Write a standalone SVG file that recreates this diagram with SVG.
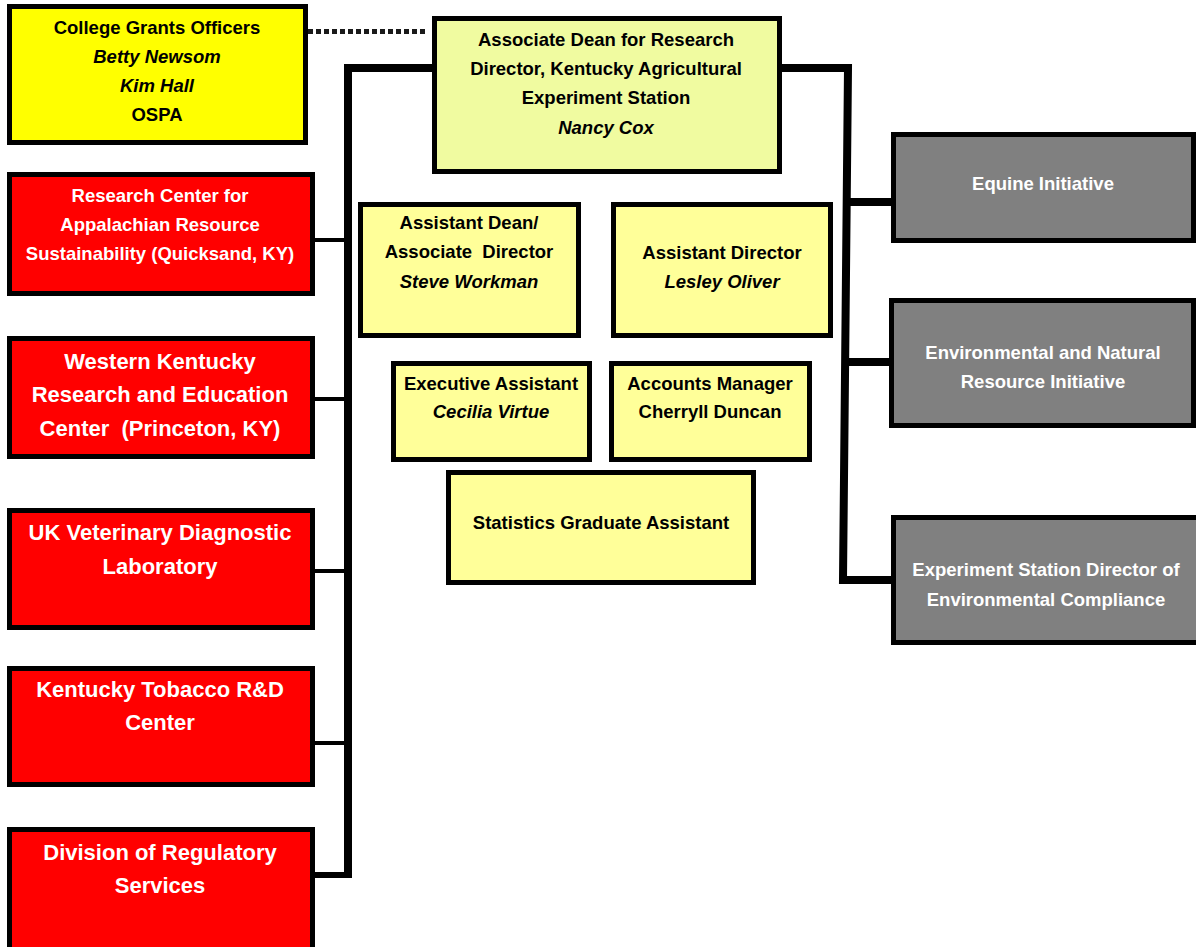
<svg xmlns="http://www.w3.org/2000/svg" width="1196" height="947" viewBox="0 0 1196 947">
<style>
.box{stroke:#000;stroke-width:5}
.gr{fill:#FFFF00}
.ad{fill:#F0FBA0}
.ly{fill:#FFFF99}
.rd{fill:#FF0000}
.gy{fill:#808080}
text{font-family:"Liberation Sans",Arial,sans-serif;font-weight:bold;text-anchor:middle;white-space:pre}
.t{font-size:18.5px;fill:#000}
.w{font-size:18.5px;fill:#fff}
.wl{font-size:22px;fill:#fff}
.i{font-style:italic}
.main{fill:none;stroke:#000;stroke-width:8}
.br{fill:none;stroke:#000;stroke-width:4}
</style>
<rect width="1196" height="947" fill="#fff"/>
<g id="connectors">
<line x1="308" y1="31.5" x2="428" y2="31.5" stroke="#1a1a1a" stroke-width="5" stroke-dasharray="5 3"/>
<path class="main" d="M432 68 H348 V878"/>
<path class="br" d="M315 240 H348 M315 399 H348 M315 571 H348 M315 743 H348"/>
<path class="main" d="M315 875 H348" style="stroke-width:6"/>
<path class="main" d="M782 68 H848 L843 580 H891"/>
<path class="main" d="M847 202 H893 M845 362 H891"/>
</g>
<g id="grants">
<rect class="box gr" x="9.5" y="6.5" width="296" height="136"/>
<text class="t" x="157" y="34">College Grants Officers</text>
<text class="t i" x="157" y="63">Betty Newsom</text>
<text class="t i" x="157" y="92">Kim Hall</text>
<text class="t" x="157" y="121">OSPA</text>
</g>
<g id="assocdean">
<rect class="box ad" x="434.5" y="18.5" width="345" height="153"/>
<text class="t" x="606" y="46">Associate Dean for Research</text>
<text class="t" x="606" y="75">Director, Kentucky Agricultural</text>
<text class="t" x="606" y="104">Experiment Station</text>
<text class="t i" x="606" y="134">Nancy Cox</text>
</g>
<g id="research">
<rect class="box rd" x="9.5" y="174.5" width="303" height="119"/>
<text class="w" x="160" y="202">Research Center for</text>
<text class="w" x="160" y="231">Appalachian Resource</text>
<text class="w" x="160" y="260">Sustainability (Quicksand, KY)</text>
</g>
<g id="western">
<rect class="box rd" x="9.5" y="338.5" width="303" height="118"/>
<text class="wl" x="160" y="369">Western Kentucky</text>
<text class="wl" x="160" y="402">Research and Education</text>
<text class="wl" x="160" y="436" xml:space="preserve">Center  (Princeton, KY)</text>
</g>
<g id="ukvet">
<rect class="box rd" x="9.5" y="510.5" width="303" height="117"/>
<text class="wl" x="160" y="540">UK Veterinary Diagnostic</text>
<text class="wl" x="160" y="574">Laboratory</text>
</g>
<g id="tobacco">
<rect class="box rd" x="9.5" y="668.5" width="303" height="116"/>
<text class="wl" x="160" y="697">Kentucky Tobacco R&amp;D</text>
<text class="wl" x="160" y="730">Center</text>
</g>
<g id="division">
<rect class="box rd" x="9.5" y="829.5" width="303" height="130"/>
<text class="wl" x="160" y="860">Division of Regulatory</text>
<text class="wl" x="160" y="893">Services</text>
</g>
<g id="asstdean">
<rect class="box ly" x="360.5" y="204.5" width="218" height="131"/>
<text class="t" x="469" y="229">Assistant Dean/</text>
<text class="t" x="469" y="258" xml:space="preserve">Associate  Director</text>
<text class="t i" x="469" y="288">Steve Workman</text>
</g>
<g id="asstdir">
<rect class="box ly" x="613.5" y="204.5" width="217" height="131"/>
<text class="t" x="722" y="259">Assistant Director</text>
<text class="t i" x="722" y="288">Lesley Oliver</text>
</g>
<g id="exec">
<rect class="box ly" x="393.5" y="363.5" width="196" height="96"/>
<text class="t" x="491" y="390">Executive Assistant</text>
<text class="t i" x="491" y="418">Cecilia Virtue</text>
</g>
<g id="accounts">
<rect class="box ly" x="611.5" y="363.5" width="198" height="96"/>
<text class="t" x="710" y="390">Accounts Manager</text>
<text class="t" x="710" y="418">Cherryll Duncan</text>
</g>
<g id="stats">
<rect class="box ly" x="448.5" y="472.5" width="305" height="110"/>
<text class="t" x="601" y="529">Statistics Graduate Assistant</text>
</g>
<g id="equine">
<rect class="box gy" x="893.5" y="134.5" width="300" height="106"/>
<text class="w" x="1043" y="190">Equine Initiative</text>
</g>
<g id="environ">
<rect class="box gy" x="891.5" y="300.5" width="302" height="125"/>
<text class="w" x="1043" y="359">Environmental and Natural</text>
<text class="w" x="1043" y="388">Resource Initiative</text>
</g>
<g id="compliance">
<rect class="box gy" x="893.5" y="517.5" width="310" height="125"/>
<text class="w" x="1046" y="576">Experiment Station Director of</text>
<text class="w" x="1046" y="606">Environmental Compliance</text>
</g>
</svg>
